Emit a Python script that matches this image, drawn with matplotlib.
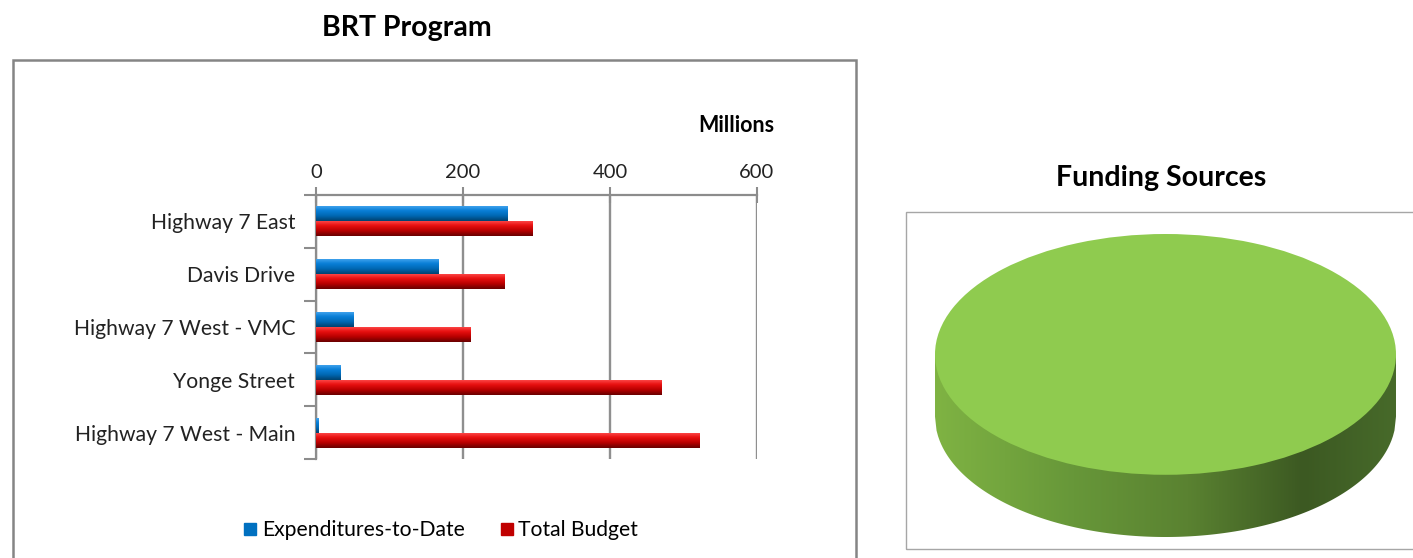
import numpy as np
import matplotlib.pyplot as plt
from matplotlib.colors import LinearSegmentedColormap
from matplotlib.patches import Rectangle, Polygon
from matplotlib.lines import Line2D

plt.rcParams['font.family'] = ['Lato', 'DejaVu Sans']

projects = ['Highway 7 East', 'Davis Drive', 'Highway 7 West - VMC',
            'Yonge Street', 'Highway 7 West - Main']
expenditures = [260, 166, 51, 33, 3]
total_budget = [295, 257, 210, 470, 522]
x_ticks = [0, 200, 400, 600]

funding_labels = ['Funding']
funding_values = [100]

fig = plt.figure(figsize=(14.13, 5.58), dpi=100)
W, H = 1413, 558


def fx(px):
    return px / W


def fy(py):
    return 1 - py / H


# frames around both charts
fig.patches.append(Rectangle((fx(13), fy(600)), fx(856) - fx(13), fy(60) - fy(600),
                             transform=fig.transFigure, fill=False,
                             edgecolor='#858585', lw=1.8))
fig.patches.append(Rectangle((fx(906), fy(549)), fx(1500) - fx(906), fy(212) - fy(549),
                             transform=fig.transFigure, fill=False,
                             edgecolor='#a6a6a6', lw=1.0))

fig.text(fx(407), fy(28), 'BRT Program', ha='center', va='center',
         fontsize=20.5, fontweight='bold')
fig.text(fx(1161), fy(178), 'Funding Sources', ha='center', va='center',
         fontsize=20.5, fontweight='bold')

# ---- bar chart
ax = fig.add_axes([fx(316), fy(459), fx(757) - fx(316), fy(195) - fy(459)])
y = np.arange(len(projects))
h = 0.285
blue_bars = ax.barh(y - h / 2, expenditures, height=h, color='#0070c0', zorder=3)
red_bars = ax.barh(y + h / 2, total_budget, height=h, color='#c00000', zorder=3)

# shading like the cylinder look of the original bars
blue_cm = LinearSegmentedColormap.from_list('b', ['#4aa8f0', '#0a80d8', '#0068b4', '#00426e'])
red_cm = LinearSegmentedColormap.from_list('r', ['#ff5050', '#e81010', '#b80000', '#680000'])
grad = np.linspace(0, 1, 64).reshape(-1, 1)
for bars, cm in [(blue_bars, blue_cm), (red_bars, red_cm)]:
    for b in bars:
        x0, y0 = b.get_x(), b.get_y()
        im = ax.imshow(grad, cmap=cm, aspect='auto', origin='upper',
                       extent=(x0, x0 + b.get_width(), y0 + b.get_height(), y0),
                       zorder=4, interpolation='bicubic')
        im.set_clip_path(b)
ax.set_xlim(0, 600)
ax.set_ylim(len(projects) - 0.5, -0.5)
ax.set_aspect('auto')

ax.xaxis.tick_top()
ax.set_xticks(x_ticks)
ax.tick_params(axis='x', direction='inout', length=12, width=1.5, color='#8c8c8c',
               labelsize=14.5, pad=4, labelcolor='#222222')
ax.set_yticks(y)
ax.set_yticklabels(projects)
ax.tick_params(axis='y', length=0, labelsize=15.2, pad=15, labelcolor='#222222')
ax.set_yticks(np.arange(-0.5, len(projects)), minor=True)
ax.tick_params(axis='y', which='minor', length=9, width=1.5, color='#8c8c8c', direction='out')
ax.grid(axis='x', color='#8f8f8f', lw=1.7, zorder=0)
for s in ['right', 'bottom']:
    ax.spines[s].set_visible(False)
for s in ['top', 'left']:
    ax.spines[s].set_color('#8c8c8c')
    ax.spines[s].set_linewidth(1.6)

fig.text(fx(736), fy(125), 'Millions', ha='center', va='center',
         fontsize=15.5, fontweight='bold')

handles = [Line2D([], [], marker='s', ls='none', color='#0070c0', markersize=8),
           Line2D([], [], marker='s', ls='none', color='#c00000', markersize=8)]
fig.legend(handles, ['Expenditures-to-Date', 'Total Budget'], loc='center',
           bbox_to_anchor=(fx(439), fy(530)), ncol=2, frameon=False,
           fontsize=15.2, handletextpad=0.05, columnspacing=1.5, handlelength=1.0)

# ---- 3D-looking pie
depth = 62 / 120
ax2 = fig.add_axes([fx(935), fy(537), fx(1396) - fx(935), fy(234) - fy(537)])
xs = np.linspace(-1, 1, 300)
side = np.concatenate([np.column_stack([xs, np.zeros_like(xs)]),
                       np.column_stack([xs[::-1], -np.sqrt(1 - xs[::-1] ** 2) - depth])])
side_poly = Polygon(side, closed=True, facecolor='none', edgecolor='none')
ax2.add_patch(side_poly)
side_cm = LinearSegmentedColormap.from_list(
    's', [(0, '#7fb343'), (0.3, '#679739'), (0.55, '#5a8231'), (0.8, '#3c5922'), (1, '#476a2a')])
sg = ax2.imshow(np.linspace(0, 1, 256).reshape(1, -1), cmap=side_cm, aspect='auto',
                extent=(-1, 1, -1 - depth, 0), zorder=1)
sg.set_clip_path(side_poly)

wedges, _ = ax2.pie(funding_values, colors=['#8fcb4f'], radius=1, startangle=90,
                    wedgeprops=dict(linewidth=0))
for w in wedges:
    w.set_zorder(2)
ax2.set_aspect('auto')
ax2.set_xlim(-1, 1)
ax2.set_ylim(-1 - depth, 1)
ax2.axis('off')

fig.savefig('out.png', dpi=100)
